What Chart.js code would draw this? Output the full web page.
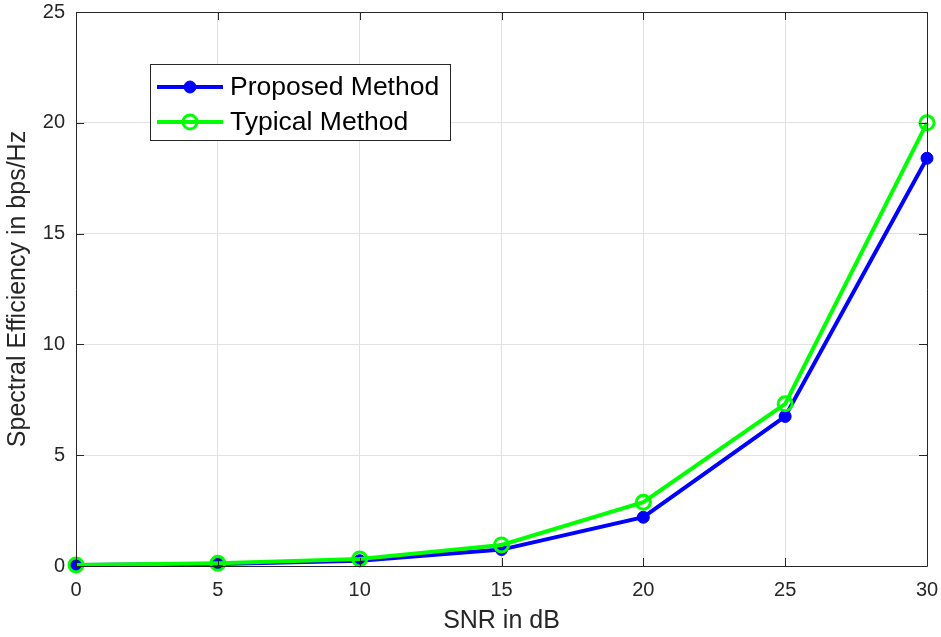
<!DOCTYPE html>
<html>
<head>
<meta charset="utf-8">
<script src="https://cdn.jsdelivr.net/npm/chart.js@4/dist/chart.umd.min.js"></script>
<style>
  html, body { margin: 0; padding: 0; background: #ffffff; }
  #wrap { width: 941px; height: 637px; }
</style>
</head>
<body>
<div id="wrap"><canvas id="c" width="941" height="637"></canvas></div>
<script>
// SNR sweep (dB) and spectral efficiency (bps/Hz) per method
const snrDb = [0, 5, 10, 15, 20, 25, 30];
const proposedSE = [0.04, 0.09, 0.24, 0.74, 2.2, 6.75, 18.4];
const typicalSE = [0.05, 0.12, 0.32, 0.95, 2.88, 7.32, 20.0];
const seriesNames = ['Proposed Method', 'Typical Method'];
const xTicks = [0, 5, 10, 15, 20, 25, 30];
const yTicks = [0, 5, 10, 15, 20, 25];

const FONT = "'Liberation Sans', Arial, Helvetica, sans-serif";
const INK = '#262626';

const toPoints = (ys) => snrDb.map((x, i) => ({ x, y: ys[i] }));

// Box outline, inward tick marks and the boxed legend
const framePlugin = {
  id: 'frame',
  afterDraw(chart) {
    const { ctx, chartArea: a, scales } = chart;
    const xs = scales.x, ys = scales.y;
    const tl = 8;
    ctx.save();
    ctx.strokeStyle = INK;
    ctx.lineWidth = 1;
    ctx.beginPath();
    ctx.rect(Math.round(a.left) + 0.5, Math.round(a.top) + 0.5,
             Math.round(a.right - a.left), Math.round(a.bottom - a.top));
    ctx.stroke();
    ctx.beginPath();
    xTicks.forEach(v => {
      const px = Math.round(xs.getPixelForValue(v)) + 0.5;
      ctx.moveTo(px, a.bottom); ctx.lineTo(px, a.bottom - tl);
      ctx.moveTo(px, a.top); ctx.lineTo(px, a.top + tl);
    });
    yTicks.forEach(v => {
      const py = Math.round(ys.getPixelForValue(v)) + 0.5;
      ctx.moveTo(a.left, py); ctx.lineTo(a.left + tl, py);
      ctx.moveTo(a.right, py); ctx.lineTo(a.right - tl, py);
    });
    ctx.stroke();

    // legend
    const lx = 150.5, ly = 64.5, lw = 300, lh = 76;
    ctx.fillStyle = '#ffffff';
    ctx.fillRect(lx, ly, lw, lh);
    ctx.strokeStyle = INK;
    ctx.lineWidth = 1;
    ctx.strokeRect(lx, ly, lw, lh);
    const rows = [87, 122];
    const order = [0, 1];
    order.forEach((di, r) => {
      const ds = chart.data.datasets[di];
      const y = rows[r];
      ctx.strokeStyle = ds.borderColor;
      ctx.lineWidth = ds.borderWidth;
      ctx.beginPath();
      ctx.moveTo(157, y); ctx.lineTo(223, y);
      ctx.stroke();
      ctx.beginPath();
      ctx.arc(190, y, ds.pointRadius, 0, Math.PI * 2);
      if (ds.pointBackgroundColor !== 'transparent') {
        ctx.fillStyle = ds.pointBackgroundColor;
        ctx.fill();
      }
      ctx.lineWidth = ds.pointBorderWidth;
      ctx.strokeStyle = ds.pointBorderColor;
      ctx.stroke();
      ctx.fillStyle = '#000000';
      ctx.font = '26.5px ' + FONT;
      ctx.textBaseline = 'middle';
      ctx.textAlign = 'left';
      ctx.fillText(ds.label, 230, y + 1);
    });
    ctx.restore();
  }
};

new Chart(document.getElementById('c'), {
  type: 'line',
  data: {
    datasets: [
      {
        label: seriesNames[0],
        data: toPoints(proposedSE),
        borderColor: '#0000ff',
        borderWidth: 4,
        pointRadius: 6,
        pointBackgroundColor: '#0000ff',
        pointBorderColor: '#0000ff',
        pointBorderWidth: 1,
        tension: 0,
        clip: false,
        order: 1
      },
      {
        label: seriesNames[1],
        data: toPoints(typicalSE),
        borderColor: '#00ff00',
        borderWidth: 4,
        pointRadius: 7,
        pointBackgroundColor: 'transparent',
        pointBorderColor: '#00ff00',
        pointBorderWidth: 3,
        tension: 0,
        clip: false,
        order: 0
      }
    ]
  },
  options: {
    responsive: false,
    animation: false,
    devicePixelRatio: 1,
    layout: { padding: { top: 12, right: 14, left: 0, bottom: 0 } },
    plugins: { legend: { display: false }, tooltip: { enabled: false } },
    elements: { point: { hoverRadius: 6 } },
    scales: {
      x: {
        type: 'linear',
        min: 0, max: 30,
        afterFit: (s) => { s.height = 71; s.paddingLeft = 0; s.paddingRight = 0; },
        afterBuildTicks: (s) => { s.ticks = xTicks.map(v => ({ value: v })); },
        grid: { color: '#e2e2e2', lineWidth: 1, drawTicks: false },
        border: { display: false },
        ticks: { padding: 12, color: INK, font: { family: FONT, size: 20 }, maxRotation: 0 },
        title: { display: true, text: 'SNR in dB', color: INK,
                 font: { family: FONT, size: 25, lineHeight: 1.2 }, padding: { top: 0, bottom: 1 } }
      },
      y: {
        min: 0, max: 25,
        afterFit: (s) => { s.width = 76; s.paddingTop = 0; s.paddingBottom = 0; },
        afterBuildTicks: (s) => { s.ticks = yTicks.map(v => ({ value: v })); },
        grid: { color: '#e2e2e2', lineWidth: 1, drawTicks: false },
        border: { display: false },
        ticks: { padding: 11, color: INK, font: { family: FONT, size: 20 } },
        title: { display: true, text: 'Spectral Efficiency in bps/Hz', color: INK,
                 font: { family: FONT, size: 25, lineHeight: 1.2 }, padding: { top: 3, bottom: 0 } }
      }
    }
  },
  plugins: [framePlugin]
});
</script>
</body>
</html>
